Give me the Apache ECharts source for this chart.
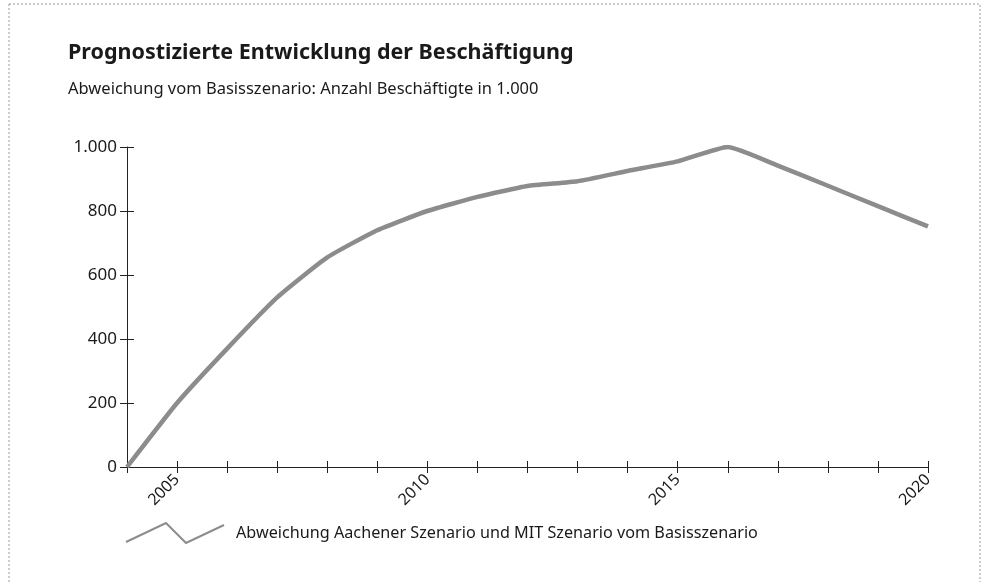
<!DOCTYPE html>
<html>
<head>
<meta charset="utf-8">
<script src="https://cdn.jsdelivr.net/npm/echarts@6/dist/echarts.min.js"></script>
<style>
  html, body { margin: 0; padding: 0; background: #fff; }
  #main { width: 986px; height: 582px; }
</style>
</head>
<body>
<div id="main"></div>
<script>
// Jahre (x-Achse)
const years = ['2004', '2005', '2006', '2007', '2008', '2009', '2010', '2011', '2012',
  '2013', '2014', '2015', '2016', '2017', '2018', '2019', '2020'];

// Abweichung vom Basisszenario, Beschäftigte in 1.000
const abweichung = [0, 200, 370, 530, 655, 740, 800, 844, 878, 893, 925, 955, 1000, 942, 879, 815, 752];

const seriesName = 'Abweichung Aachener Szenario und MIT Szenario vom Basisszenario';
const labelYears = ['2005', '2010', '2015', '2020'];

const font = '"Noto Sans", sans-serif';
const textColor = '#1a1a1a';

const chart = echarts.init(document.getElementById('main'));

const option = {
  animation: false,
  backgroundColor: '#fff',
  title: {
    text: 'Prognostizierte Entwicklung der Beschäftigung',
    subtext: 'Abweichung vom Basisszenario: Anzahl Beschäftigte in 1.000',
    left: 63,
    top: 37,
    itemGap: 17,
    textStyle: { fontFamily: font, fontSize: 21.5, fontWeight: 'bold', color: textColor },
    subtextStyle: { fontFamily: font, fontSize: 16.5, color: textColor }
  },
  grid: { left: 127, right: 58, top: 147, bottom: 115 },
  legend: {
    left: 120,
    top: 517,
    icon: 'path://M0,19L40,0L60,20L98,2',
    itemWidth: 98,
    itemHeight: 20,
    itemStyle: { color: 'transparent', borderColor: '#8c8c8c', borderWidth: 2 },
    lineStyle: { width: 0 },
    textStyle: { fontFamily: font, fontSize: 16.2, color: textColor, padding: [0, 0, 0, 7] },
    data: [seriesName]
  },
  xAxis: [{
    type: 'category',
    data: years,
    boundaryGap: false,
    axisLine: { onZero: false, lineStyle: { color: '#222', width: 1 } },
    axisTick: { interval: 0, length: 6, lineStyle: { color: '#222' } },
    axisLabel: {
      interval: 0,
      rotate: 45,
      margin: 10,
      fontFamily: font,
      fontSize: 16,
      color: textColor,
      formatter: v => labelYears.includes(v) ? v : ''
    },
    splitLine: { show: false }
  }, {
    // zweite Achse nur für die nach innen zeigenden Teilstriche
    type: 'category',
    data: years,
    boundaryGap: false,
    position: 'bottom',
    axisLine: { show: true, onZero: false, lineStyle: { color: 'rgba(0,0,0,0)' } },
    axisTick: { show: true, inside: true, interval: 0, length: 6, lineStyle: { color: '#222' } },
    axisLabel: { show: false },
    splitLine: { show: false }
  }],
  yAxis: [{
    type: 'value',
    min: 0,
    max: 1000,
    interval: 200,
    axisLine: { show: true, lineStyle: { color: '#222', width: 1 } },
    axisTick: { show: true, length: 7, lineStyle: { color: '#222' } },
    axisLabel: {
      margin: 10,
      fontFamily: font,
      fontSize: 17,
      color: textColor,
      formatter: v => v >= 1000 ? (v / 1000) + '.' + String(v % 1000).padStart(3, '0') : String(v)
    },
    splitLine: { show: false }
  }, {
    type: 'value',
    min: 0,
    max: 1000,
    interval: 200,
    position: 'left',
    axisLine: { show: false },
    axisTick: { show: true, inside: true, length: 7, lineStyle: { color: '#222' } },
    axisLabel: { show: false },
    splitLine: { show: false }
  }],
  series: [{
    name: seriesName,
    type: 'line',
    data: abweichung,
    showSymbol: false,
    smooth: 0.15,
    lineStyle: { color: '#8c8c8c', width: 4.5 },
    itemStyle: { color: '#8c8c8c' }
  }],
  graphic: [{
    type: 'rect',
    shape: { x: 9, y: 4, width: 971, height: 620 },
    style: { fill: 'none', stroke: '#9a9a9a', lineWidth: 1, lineDash: [2, 2] },
    silent: true
  }]
};

chart.setOption(option);
</script>
</body>
</html>
